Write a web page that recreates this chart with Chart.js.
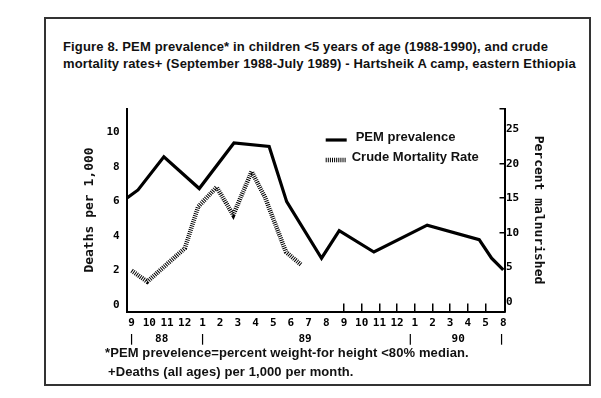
<!DOCTYPE html>
<html>
<head>
<meta charset="utf-8">
<title>Figure 8 - PEM prevalence and crude mortality</title>
<script src="https://cdn.jsdelivr.net/npm/chart.js@4.4.1/dist/chart.umd.min.js"></script>
<style>
  html, body { margin: 0; padding: 0; background: #fff; }
  body { position: relative; width: 601px; height: 398px; overflow: hidden; }
  #frame {
    position: absolute; left: 44px; top: 17px; width: 547px; height: 369px;
    box-sizing: border-box; border: 2px solid #333;
  }
  #title {
    position: absolute; left: 63px; top: 38px; white-space: nowrap; color: #111;
    font: bold 13px "Liberation Sans", Arial, sans-serif; line-height: 17px;
    letter-spacing: 0.15px;
  }
  #notes {
    position: absolute; left: 105px; top: 343px; white-space: nowrap; color: #111;
    font: bold 13px "Liberation Sans", Arial, sans-serif; line-height: 19px;
    letter-spacing: 0.1px;
  }
  #notes .second { padding-left: 3px; }
  #chart { position: absolute; left: 0; top: 0; }
</style>
</head>
<body>
<div id="frame"></div>
<div id="title">Figure 8. PEM prevalence* in children &lt;5 years of age (1988-1990), and crude<br>mortality rates+ (September 1988-July 1989) - Hartsheik A camp, eastern Ethiopia</div>
<canvas id="chart" width="601" height="398"></canvas>
<div id="notes">*PEM prevelence=percent weight-for height &lt;80% median.<br><span class="second">+Deaths (all ages) per 1,000 per month.</span></div>
<script>
// month labels on the bottom axis (Sept 1988 .. Aug 1990, as printed)
const monthLabels = ["9", "10", "11", "12", "1", "2", "3", "4", "5", "6", "7",
                     "8", "9", "10", "11", "12", "1", "2", "3", "4", "5", "8"];

// year row under the months
const yearPos = [0, 1.7, 4, 9.8, 15.75, 18.45, 20.9];
const yearText = ["|", "88", "|", "89", "|", "90", "|"];

// left axis: deaths per 1,000 / right axis: percent malnourished
const deathTicks = [0, 2, 4, 6, 8, 10];
const percentTicks = [0, 5, 10, 15, 20, 25, 28];

// PEM prevalence (percent), x in month-label steps
const pemX = [-0.28, 0.36, 1.82, 3.82, 5.78, 7.77, 8.76, 10.73, 11.73, 13.69, 16.7, 19.64, 20.34, 21.0];
const pemY = [15.0, 16.2, 21.0, 16.4, 23.0, 22.5, 14.5, 6.3, 10.3, 7.2, 11.1, 9.0, 6.3, 4.6];

// crude mortality rate (deaths per 1,000 per month)
const cmrX = [0, 0.88, 3.01, 3.76, 4.8, 5.74, 6.78, 7.53, 8.72, 9.6];
const cmrY = [2.0, 1.36, 3.3, 5.7, 6.83, 5.22, 7.73, 6.26, 3.08, 2.32];

const monoFont = { family: "'DejaVu Sans Mono', monospace", size: 11, weight: "bold" };
const axisTitleFont = { family: "'DejaVu Sans Mono', monospace", size: 13, weight: "bold" };

// legend drawn inside the plot area, upper right
const insideLegend = {
  id: "insideLegend",
  afterDatasetsDraw(chart) {
    const { ctx, chartArea } = chart;
    chart.data.datasets.forEach((ds, i) => {
      const x = chartArea.left + 199;
      const y = chartArea.top + 31.5 + i * 20;
      ctx.save();
      ctx.strokeStyle = ds.borderColor;
      ctx.lineWidth = ds.borderWidth;
      ctx.lineCap = "butt";
      ctx.setLineDash(ds.borderDash || []);
      ctx.beginPath();
      ctx.moveTo(x, y);
      ctx.lineTo(x + 21, y);
      ctx.stroke();
      ctx.setLineDash([]);
      ctx.fillStyle = "#111";
      ctx.font = "bold 13px 'Liberation Sans', Arial, sans-serif";
      ctx.textBaseline = "middle";
      ctx.fillText(ds.label, x + 30 - i * 4, y - 2.5);
      ctx.restore();
    });
  }
};

const data = {
  datasets: [
    {
      label: "PEM prevalence",
      data: pemX.map((x, i) => ({ x: x, y: pemY[i] })),
      yAxisID: "y1",
      borderColor: "#000",
      borderWidth: 3.2,
      pointRadius: 0,
      tension: 0
    },
    {
      label: "Crude Mortality Rate",
      data: cmrX.map((x, i) => ({ x: x, y: cmrY[i] })),
      yAxisID: "y",
      borderColor: "#000",
      borderWidth: 4.5,
      borderDash: [1, 1.1],
      borderCapStyle: "butt",
      pointRadius: 0,
      tension: 0
    }
  ]
};

const config = {
  type: "line",
  data: data,
  options: {
    responsive: false,
    animation: false,
    layout: { padding: { left: 81.5, right: 55, top: 108.5, bottom: 50.5 } },
    plugins: {
      legend: { display: false },
      tooltip: { enabled: false }
    },
    scales: {
      x: {
        type: "linear",
        min: -0.28,
        max: 21.07,
        afterBuildTicks: (s) => { s.ticks = monthLabels.map((l, i) => ({ value: i })); },
        afterFit: (s) => { s.height = 20; },
        ticks: {
          callback: (v, i) => monthLabels[i],
          font: monoFont, color: "#000", padding: 13,
          autoSkip: false, maxRotation: 0
        },
        grid: {
          drawOnChartArea: false, drawTicks: true, tickLength: -8, lineWidth: 1.5,
          color: (c) => (c.index >= 12 && c.index <= 20) ? "#000" : "rgba(0,0,0,0)"
        },
        border: { display: true, color: "#000", width: 2 }
      },
      x2: {
        type: "linear",
        position: "bottom",
        weight: 1,
        min: -0.28,
        max: 21.07,
        afterBuildTicks: (s) => { s.ticks = yearPos.map((v) => ({ value: v })); },
        afterFit: (s) => { s.height = 16; },
        ticks: {
          callback: (v, i) => yearText[i],
          font: monoFont, color: "#000", padding: 1,
          autoSkip: false, maxRotation: 0
        },
        grid: { display: false, drawTicks: false },
        border: { display: false }
      },
      y: {
        position: "left",
        min: -0.364,
        max: 11.38,
        afterBuildTicks: (s) => { s.ticks = deathTicks.map((v) => ({ value: v })); },
        afterFit: (s) => { s.width = 45.2; },
        ticks: { font: monoFont, color: "#000", padding: 7 },
        grid: { display: false, drawTicks: false },
        border: { display: true, color: "#000", width: 2 },
        title: { display: true, text: "Deaths per 1,000", font: axisTitleFont, color: "#111", padding: 0 }
      },
      y1: {
        position: "right",
        min: -1.42,
        max: 28,
        afterBuildTicks: (s) => { s.ticks = percentTicks.map((v) => ({ value: v })); },
        afterFit: (s) => { s.width = 41.5; },
        ticks: {
          callback: (v) => (v === 28 ? "" : v),
          font: monoFont, color: "#000", padding: 6.5
        },
        grid: {
          drawOnChartArea: false, drawTicks: true, tickLength: -5, lineWidth: 1.5,
          color: (c) => [10, 15, 20, 28].includes(c.tick.value) ? "#000" : "rgba(0,0,0,0)"
        },
        border: { display: true, color: "#000", width: 2 },
        title: { display: true, text: "Percent malnurished", font: axisTitleFont, color: "#111", padding: 0 }
      }
    }
  },
  plugins: [insideLegend]
};

const ctx = document.getElementById("chart").getContext("2d");
const myChart = new Chart(ctx, config);
</script>
</body>
</html>
